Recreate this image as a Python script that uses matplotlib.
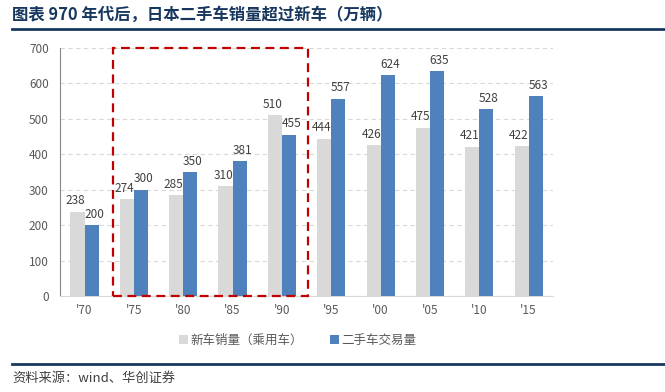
import matplotlib.pyplot as plt
from matplotlib.patches import Rectangle
from matplotlib.lines import Line2D

plt.rcParams['font.family'] = ['Noto Sans CJK SC', 'DejaVu Sans']

years = ["'70", "'75", "'80", "'85", "'90", "'95", "'00", "'05", "'10", "'15"]
new_cars = [238, 274, 285, 310, 510, 444, 426, 475, 421, 422]
used_cars = [200, 300, 350, 381, 455, 557, 624, 635, 528, 563]

gray = '#D9D9D9'
blue = '#4F81BD'
navy = '#17375E'
txt = '#595959'

fig = plt.figure(figsize=(6.65, 3.92), dpi=100)
ax = fig.add_axes([0.090, 0.245, 0.742, 0.633])

x = list(range(len(years)))
w = 0.285
ax.bar([i - w / 2 for i in x], new_cars, w, color=gray, label='新车销量（乘用车）', zorder=3)
ax.bar([i + w / 2 for i in x], used_cars, w, color=blue, label='二手车交易量', zorder=3)

for i in x:
    ax.text(i - w / 2 - 0.05, new_cars[i] + 12, str(new_cars[i]), ha='center', va='bottom',
            fontsize=8.5, color='#404040', zorder=5)
    ax.text(i + w / 2 + 0.05, used_cars[i] + 12, str(used_cars[i]), ha='center', va='bottom',
            fontsize=8.5, color='#404040', zorder=5)

ax.set_xlim(-0.5, len(years) - 0.5)
ax.set_ylim(0, 700)
ax.set_yticks(range(0, 701, 100))
ax.set_xticks(x)
ax.set_xticklabels(years)
ax.tick_params(axis='both', labelsize=8.5, colors=txt, length=0)
ax.tick_params(axis='y', pad=8)
ax.tick_params(axis='x', pad=6)
ax.yaxis.grid(True, linestyle=(0, (4, 3)), color='#D9D9D9', linewidth=0.8, zorder=0)
for s in ['top', 'right']:
    ax.spines[s].set_visible(False)
ax.spines['left'].set_color('#868686')
ax.spines['bottom'].set_color('#D9D9D9')

# highlight box around '75-'90
ax.add_patch(Rectangle((0.57, 0), 3.95, 700, fill=False, edgecolor='#C00000',
                       linestyle=(0, (4, 2.5)), linewidth=1.6, zorder=6, clip_on=False))

handles, labels = ax.get_legend_handles_labels()
fig.legend(handles, labels, loc='center', bbox_to_anchor=(0.448, 0.132), ncol=2, frameon=False,
           fontsize=9, labelcolor=txt, handlelength=0.7, handleheight=0.7, handletextpad=0.2,
           columnspacing=2.2)

fig.text(12 / 665, 1 - 15 / 392, '图表 970 年代后，日本二手车销量超过新车（万辆）', fontsize=11.8,
         fontweight='bold', color=navy, va='center', ha='left')
fig.add_artist(Line2D([12 / 665, 1], [1 - 29 / 392] * 2, color=navy, linewidth=2))
fig.add_artist(Line2D([12 / 665, 1], [1 - 364 / 392] * 2, color=navy, linewidth=2))
fig.text(12 / 665, 1 - 378 / 392, '资料来源：wind、华创证券', fontsize=9.5, style='italic',
         color='#404040', va='center', ha='left')

fig.savefig('out.png', dpi=100)
